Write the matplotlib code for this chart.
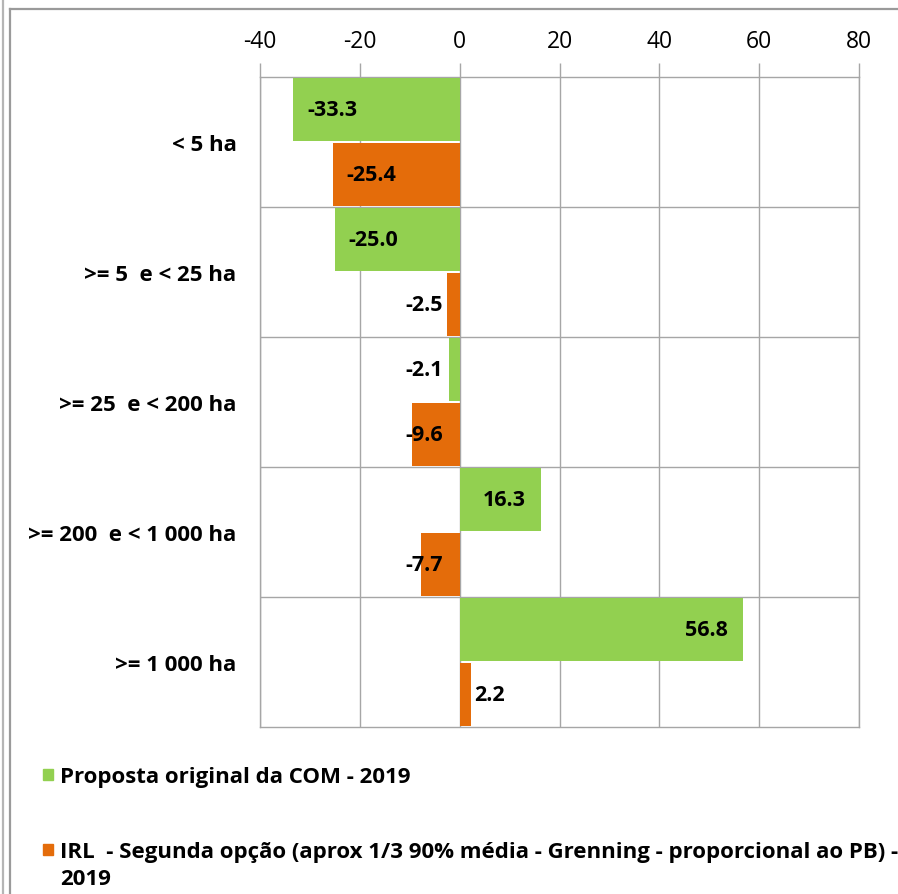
import matplotlib
matplotlib.use("Agg")
import matplotlib.pyplot as plt
from matplotlib.patches import Rectangle
from matplotlib.lines import Line2D
import numpy as np

plt.rcParams['font.family'] = ['Open Sans', 'DejaVu Sans']

categories = ["< 5 ha", ">= 5  e < 25 ha", ">= 25  e < 200 ha",
              ">= 200  e < 1 000 ha", ">= 1 000 ha"]
com_2019 = [-33.3, -25.0, -2.1, 16.3, 56.8]
irl_2019 = [-25.4, -2.5, -9.6, -7.7, 2.2]
series_names = ["Proposta original da COM - 2019",
                "IRL  - Segunda opção (aprox 1/3 90% média - Grenning - proporcional ao PB) -\n2019"]
x_ticks = [-40, -20, 0, 20, 40, 60, 80]

GREEN = "#92D050"
ORANGE = "#E46C0A"
GRID = "#A6A6A6"

W, H = 898, 895
fig = plt.figure(figsize=(W / 100, H / 100), dpi=100)
ax = fig.add_axes([260 / W, 1 - 728 / H, (859 - 260) / W, (728 - 78) / H])

y = np.arange(len(categories))
ax.barh(y - 0.25, com_2019, height=0.49, color=GREEN, zorder=3)
ax.barh(y + 0.25, irl_2019, height=0.49, color=ORANGE, zorder=3)

ax.set_xlim(-40, 80)
ax.set_ylim(len(categories) - 0.5, -0.5)
ax.set_xticks(x_ticks)
ax.set_xticklabels([str(t) for t in x_ticks])
ax.xaxis.tick_top()
ax.tick_params(axis='x', length=10, width=1, color=GRID, labelsize=16.5, pad=7)
ax.set_yticks(y)
ax.set_yticklabels(categories, fontweight='bold', fontsize=16)
ax.tick_params(axis='y', length=0, pad=17)
ax.grid(axis='x', color=GRID, linewidth=1, zorder=0)
for b in np.arange(0.5, len(categories) - 0.5, 1):
    ax.axhline(b, color=GRID, linewidth=1, zorder=0)
for s in ax.spines.values():
    s.set_color(GRID)
    s.set_linewidth(1)


def put_label(v, yc):
    txt = f"{v:.1f}"
    kw = dict(va='center', fontweight='bold', fontsize=15.5, zorder=4)
    if v < 0:
        if abs(v) > 12:
            ax.text(v + 2.8, yc, txt, ha='left', **kw)
        else:
            ax.text(-3.4, yc, txt, ha='right', **kw)
    else:
        if v > 12:
            ax.text(v - 3.0, yc, txt, ha='right', **kw)
        else:
            ax.text(v + 0.8, yc, txt, ha='left', **kw)


for i in range(len(categories)):
    put_label(com_2019[i], i - 0.25)
    put_label(irl_2019[i], i + 0.25)

# legend drawn by hand below the plot
def fx(px):
    return px / W


def fy(py):
    return 1 - py / H


for name, color, ytop in [(series_names[0], GREEN, 770), (series_names[1], ORANGE, 845)]:
    fig.add_artist(Rectangle((fx(43), fy(ytop + 11)), 10 / W, 11 / H,
                             transform=fig.transFigure, color=color))
    fig.text(fx(60), fy(ytop - 3), name, ha='left', va='top',
             fontweight='bold', fontsize=16, linespacing=1.35)

# outer frame of the chart area
fig.add_artist(Line2D([fx(10), fx(W)], [fy(10), fy(10)], color="#9A9A9A", lw=1.6,
                      transform=fig.transFigure))
fig.add_artist(Line2D([fx(10), fx(10)], [fy(10), 0], color="#9A9A9A", lw=1.6,
                      transform=fig.transFigure))
fig.add_artist(Line2D([fx(3), fx(3)], [1, 0], color="#B5B5B5", lw=1.6,
                      transform=fig.transFigure))

fig.savefig("out.png", dpi=100)
